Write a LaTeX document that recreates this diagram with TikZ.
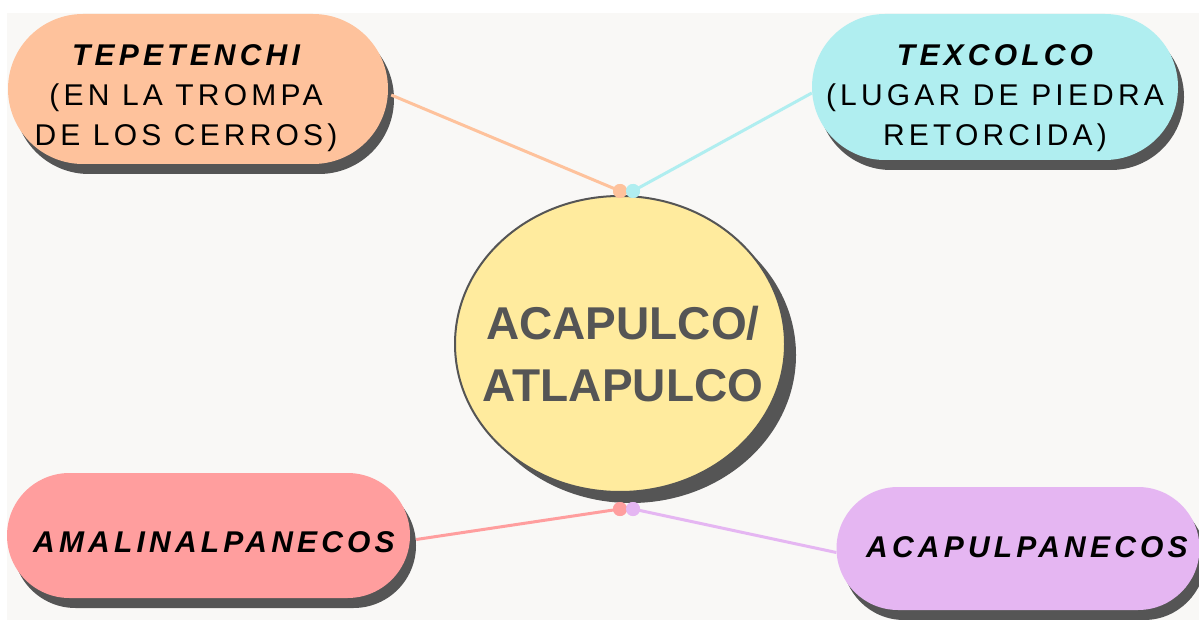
\documentclass[tikz,border=0pt]{standalone}
\usepackage{fontspec}
\setmainfont{Liberation Sans}
\newfontfamily\lsans[LetterSpace=14]{Liberation Sans}
\usetikzlibrary{shapes.misc,shapes.geometric,shadows}
\definecolor{bgc}{HTML}{F9F8F6}
\definecolor{shadowc}{HTML}{555555}
\definecolor{peachc}{HTML}{FEC29C}
\definecolor{cyanc}{HTML}{B0EEF0}
\definecolor{pinkc}{HTML}{FF9E9E}
\definecolor{purplec}{HTML}{E5B6F2}
\definecolor{yellowc}{HTML}{FFEB9E}
\definecolor{hubtext}{HTML}{555555}
\tikzset{
  pill/.style={rounded rectangle, inner sep=0pt, fill=#1,
    drop shadow={shadow xshift=6pt, shadow yshift=-10pt, fill=shadowc, opacity=1}},
  pilltext/.style={align=center, inner sep=0pt, text=black,
    font=\lsans\fontsize{30}{40}\selectfont},
  dot/.style={circle, inner sep=0pt, minimum size=14pt, fill=#1},
  link/.style={line width=3pt, draw=#1},
  hub/.style={ellipse, inner sep=0pt, minimum width=330pt, minimum height=296pt,
    fill=yellowc, draw=shadowc, line width=2pt,
    drop shadow={shadow xshift=11pt, shadow yshift=-11pt, fill=shadowc, opacity=1}},
}
\begin{document}
\begin{tikzpicture}[x=1pt,y=-1pt]
\useasboundingbox (0,0) rectangle (1199,620);
\fill[white] (0,0) rectangle (1199,620);
\fill[bgc] (7,13) rectangle (1199,620);

% hub
\node[hub] (hub) at (620,344) {};
\node[align=center, text=hubtext, font=\bfseries\fontsize{46}{62}\selectfont] (hubt) at (623,354) {ACAPULCO/\\ATLAPULCO};

% pills
\node[pill=peachc, minimum width=380pt, minimum height=150pt] (p1) at (198,89) {};
\node[pill=cyanc, minimum width=366pt, minimum height=146pt] (p2) at (995,87) {};
\node[pill=pinkc, minimum width=403pt, minimum height=125pt] (p3) at (208.5,535.5) {};
\node[pill=purplec, minimum width=363pt, minimum height=123pt] (p4) at (1018,548.5) {};

\node[pilltext] (t1) at (186,98) {{\bfseries\itshape TEPETENCHI}\\(EN LA TROMPA\\DE LOS CERROS)};
\node[pilltext] (t2) at (995,98) {{\bfseries\itshape TEXCOLCO}\\(LUGAR DE PIEDRA\\RETORCIDA)};
\node[pilltext, anchor=base] (t3) at (214,552) {\bfseries\itshape AMALINALPANECOS};
\node[pilltext, anchor=base] (t4) at (1027,557) {\bfseries\itshape ACAPULPANECOS};

% dots
\node[dot=peachc] (d1) at (620,191) {};
\node[dot=cyanc] (d2) at (633,191) {};
\node[dot=pinkc] (d3) at (620,509) {};
\node[dot=purplec] (d4) at (633,509) {};

% links
\draw[link=peachc] ([xshift=3pt,yshift=-6pt]p1.east) -- (d1.center);
\draw[link=cyanc] ([yshift=-6pt]p2.west) -- (d2.center);
\draw[link=pinkc] ([xshift=6pt,yshift=-4pt]p3.east) -- (d3.center);
\draw[link=purplec] ([yshift=-4pt]p4.west) -- (d4.center);
\node[dot=peachc] at (d1) {};
\node[dot=cyanc] at (d2) {};
\node[dot=pinkc] at (d3) {};
\node[dot=purplec] at (d4) {};
\end{tikzpicture}
\end{document}
